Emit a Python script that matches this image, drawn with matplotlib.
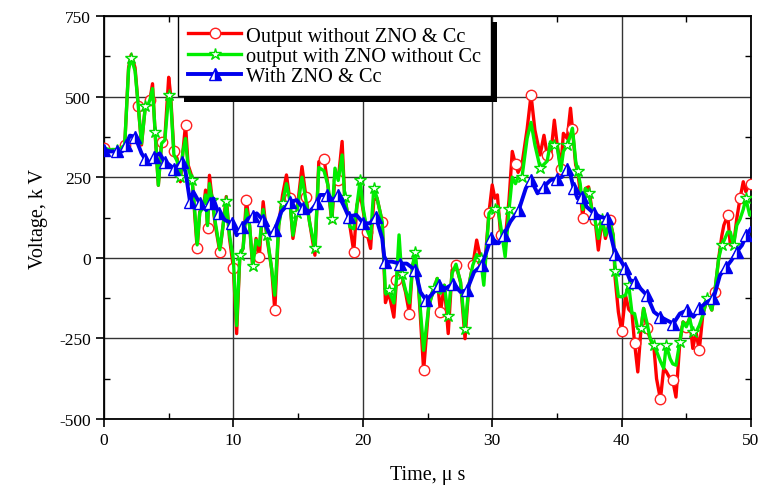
import matplotlib
matplotlib.use("Agg")
import matplotlib.pyplot as plt
from matplotlib.ticker import MultipleLocator
from matplotlib.patches import Rectangle
from matplotlib.transforms import IdentityTransform

# ---- data ----
t_red = [0.0, 0.5, 1.0, 1.3, 1.6, 1.9, 2.1, 2.4, 2.65, 2.9, 3.2, 3.4, 3.55, 3.75, 3.95, 4.2, 4.45, 4.7,
         5.0, 5.15, 5.4, 5.65, 5.9, 6.1, 6.3, 6.5, 6.8, 6.95, 7.2, 7.4, 7.7, 7.85, 8.0, 8.15, 8.35, 8.6,
         8.95, 9.2, 9.45, 9.7, 10.0, 10.25, 10.5, 10.75, 11.0, 11.25, 11.5, 11.75, 12.0, 12.3, 12.6,
         12.95, 13.2, 13.5, 13.8, 14.1, 14.35, 14.6, 14.9, 15.3, 15.6, 15.9, 16.3, 16.6, 17.0, 17.3,
         17.6, 17.85, 18.1, 18.4, 18.6, 19.0, 19.3, 19.55, 19.8, 20.0, 20.3, 20.6, 20.85, 21.1, 21.5,
         21.75, 22.0, 22.4, 22.6, 22.8, 23.0, 23.3, 23.6, 23.85, 24.05, 24.3, 24.7, 25.1, 25.5, 25.75,
         26.0, 26.3, 26.6, 26.9, 27.2, 27.55, 27.9, 28.2, 28.5, 28.8, 29.1, 29.35, 29.75, 30.0, 30.2,
         30.4, 30.65, 31.0, 31.3, 31.55, 31.8, 32.0, 32.3, 32.7, 33.0, 33.3, 33.7, 34.0, 34.25, 34.5,
         34.8, 35.0, 35.3, 35.5, 35.8, 36.05, 36.2, 36.45, 36.6, 36.8, 37.0, 37.2, 37.45, 37.7, 37.95,
         38.2, 38.5, 38.75, 39.1, 39.35, 39.5, 39.75, 40.0, 40.3, 40.55, 40.8, 41.0, 41.25, 41.5, 41.7,
         41.95, 42.2, 42.5, 42.7, 43.0, 43.25, 43.45, 43.75, 43.95, 44.2, 44.5, 44.75, 45.0, 45.25,
         45.5, 45.75, 46.0, 46.27, 46.6, 46.97, 47.2, 47.5, 47.75, 47.9, 48.2, 48.4, 48.65, 48.9,
         49.15, 49.4, 49.6, 49.9, 50.0]

v_red = [340, 335, 335, 340, 350, 590, 630, 590, 470, 350, 474, 480, 490, 540, 386, 225, 360, 370,
         560, 505, 330, 308, 236, 330, 412, 288, 251, 167, 29, 143, 160, 210, 91, 256, 184, 101,
         19, 100, 190, 60, -31, -235, 8, 29, 179, 101, -33, 60, 3, 174, 60,
         -33, -162, 101, 195, 257, 184, 60, 140, 283, 190, 107, 8, 298, 308, 226,
         112, 252, 240, 361, 185, 100, 19, 164, 200, 153, 81, 29, 179, 185, 112,
         -139, -106, -184, -70, 0, -59, -106, -173, -23, 0, -85, -349, -147, -95, -64,
         -168, -85, -235, -38, -23, -75, -251, -85, -23, 55, -2, -60, 140, 226, 185,
         195, 71, 55, 180, 330, 290, 265, 290, 400, 505, 396, 319, 380, 319, 310,
         427, 358, 277, 386, 370, 464, 400, 288, 270, 205, 124, 215, 220, 150, 117,
         24, 122, 60, 117, 70, -64, -168, -228, -116, -160, -171, -264, -354, -219, -157,
         -219, -250, -280, -375, -439, -343, -353, -375, -380, -432, -261, -199, -214, -188,
         -281, -230, -287, -178, -126, -162, -106, -2, 70, 101, 132, 40, 39, 122,
         184, 236, 205, 233, 230]

v_green = [340, 335, 335, 340, 350, 585, 620, 580, 470, 355, 470, 475, 490, 525, 390, 225, 355, 365,
           505, 490, 320, 300, 250, 330, 370, 280, 240, 180, 40, 140, 160, 195, 100, 230, 180, 110,
           25, 100, 175, 70, -7, -210, 10, 30, 150, 100, -25, 55, 39, 150, 70,
           -33, -116, 100, 170, 230, 180, 70, 140, 250, 180, 107, 30, 280, 270, 226,
           120, 278, 240, 319, 190, 96, 90, 164, 242, 160, 90, 60, 218, 185, 112,
           -110, -100, -140, -70, 71, -50, -100, -140, -23, 17, -85, -287, -150, -95, -64,
           -110, -85, -180, -48, -20, -75, -220, -85, -23, 10, -2, -85, 138, 150, 150,
           160, 100, 3, 150, 250, 230, 250, 250, 371, 420, 350, 280, 290, 300, 360,
           350, 350, 270, 330, 350, 380, 402, 300, 270, 230, 150, 215, 200, 150, 117,
           60, 120, 70, 110, 70, -40, -120, -121, -116, -85, -171, -173, -220, -219, -157,
           -200, -250, -271, -290, -321, -343, -271, -313, -329, -333, -261, -199, -214, -188,
           -230, -230, -210, -178, -126, -162, -106, -2, 40, 52, 80, 80, 39, 101,
           120, 150, 184, 132, 140]

t_blue = [0.0, 0.5, 1.0, 1.4, 1.7, 2.0, 2.4, 2.9, 3.2, 3.5, 3.9, 4.3, 4.7, 5.0, 5.4, 5.7, 6.0, 6.3,
          6.65, 6.9, 7.4, 7.9, 8.2, 8.45, 8.85, 9.35, 9.9, 10.25, 10.65, 11.15, 11.5, 11.8, 12.3,
          12.85, 13.2, 13.7, 14.4, 14.9, 15.4, 15.9, 16.45, 16.7, 17.2, 17.7, 18.1, 18.5, 18.9,
          19.5, 20.05, 20.55, 21.0, 21.5, 21.7, 22.25, 22.9, 23.4, 24.05, 24.45, 24.9, 25.5, 25.85,
          26.4, 27.0, 27.55, 28.05, 28.6, 29.2, 29.6, 29.9, 30.5, 30.9, 31.4, 32.05, 32.6, 33.0,
          33.5, 34.0, 34.5, 35.0, 35.4, 35.75, 36.05, 36.3, 36.6, 36.95, 37.3, 37.85, 38.35, 38.9,
          39.1, 39.5, 39.9, 40.3, 40.65, 41.05, 41.45, 41.95, 42.5, 43.0, 43.5, 44.0, 44.5, 45.05,
          45.55, 46.0, 46.6, 47.1, 47.6, 48.1, 48.5, 48.9, 49.3, 49.65, 50.0]

v_blue = [335, 330, 330, 330, 350, 379, 376, 324, 305, 293, 314, 324, 296, 290, 277, 285, 298, 267,
          174, 205, 169, 148, 170, 184, 138, 117, 107, 70, 96, 122, 130, 138, 117,
          70, 86, 143, 174, 179, 153, 143, 169, 195, 195, 179, 195, 164, 128,
          133, 107, 107, 128, 60, -12, -12, -18, -18, -38, -106, -132, -106, -85,
          -95, -80, -106, -100, -44, -23, 24, 60, 45, 71, 112, 148, 216, 242,
          200, 221, 241, 246, 251, 277, 257, 215, 184, 190, 158, 138, 127, 122,
          81, 13, -7, -33, -69, -75, -95, -116, -168, -183, -194, -204, -173, -163,
          -183, -157, -137, -126, -54, -28, -7, 19, 39, 70, 91]

labels = ["Output without ZNO & Cc", "output with ZNO without Cc", "With ZNO & Cc"]
x_ticks = [0, 10, 20, 30, 40, 50]
y_ticks = [-500, -250, 0, 250, 500, 750]

serif = ["Liberation Serif", "DejaVu Serif"]
plt.rcParams["font.family"] = serif
plt.rcParams["axes.unicode_minus"] = False

fig = plt.figure(figsize=(7.63, 4.89), dpi=100)
ax = fig.add_axes([0.1363, 0.1411, 0.8480, 0.8241])

ax.plot(t_red, v_red, color="#ff0000", lw=2.4, marker="o", ms=7.5, mfc="white", mec="#ff2020",
        mew=1.0, markevery=4, label=labels[0], zorder=3)
ax.plot(t_red, v_green, color="#00ee00", lw=2.4, marker="*", ms=9, mfc="white", mec="#00dd00",
        mew=1.0, markevery=(2, 4), label=labels[1], zorder=4)
ax.plot(t_blue, v_blue, color="#0000ee", lw=2.8, marker="^", ms=8, mfc="#0000ee", mfcalt="white",
        fillstyle="right", mec="#0000ee", mew=1.0, markevery=2, label=labels[2], zorder=5)

ax.set_xlim(0, 50)
ax.set_ylim(-500, 750)
ax.set_xticks(x_ticks)
ax.set_yticks(y_ticks)
ax.xaxis.set_minor_locator(MultipleLocator(5))
ax.yaxis.set_minor_locator(MultipleLocator(125))
ax.tick_params(which="major", direction="out", length=6, width=1.2, labelsize=12.5,
               top=False, right=False)
ax.tick_params(which="minor", direction="in", length=4, width=1.0, top=True, right=True)

ax.grid(True, which="major", color="#333333", lw=1.0)
ax.set_axisbelow(True)
for s in ax.spines.values():
    s.set_linewidth(1.3)
    s.set_color("black")

ax.set_xlabel("Time, μ s", fontsize=14.5, labelpad=12)
ax.set_ylabel("Voltage, k V", fontsize=14.5, labelpad=8)

leg = ax.legend(loc="upper left", bbox_to_anchor=(0.114, 1.0), fontsize=14.7, frameon=True,
                fancybox=False, edgecolor="black", framealpha=1, handlelength=2.6,
                labelspacing=0.05, borderpad=0.5, handletextpad=0.25, borderaxespad=0.0)
leg.get_frame().set_linewidth(1.0)
leg.set_zorder(10)

# heavy black drop shadow behind the legend box
fig.canvas.draw()
bb = leg.get_window_extent()
shadow = Rectangle((bb.x0 + 6, bb.y0 - 6), bb.width, bb.height, transform=IdentityTransform(),
                   facecolor="black", edgecolor="none", clip_on=False, zorder=9)
ax.add_artist(shadow)

fig.savefig("out.png", dpi=100)
